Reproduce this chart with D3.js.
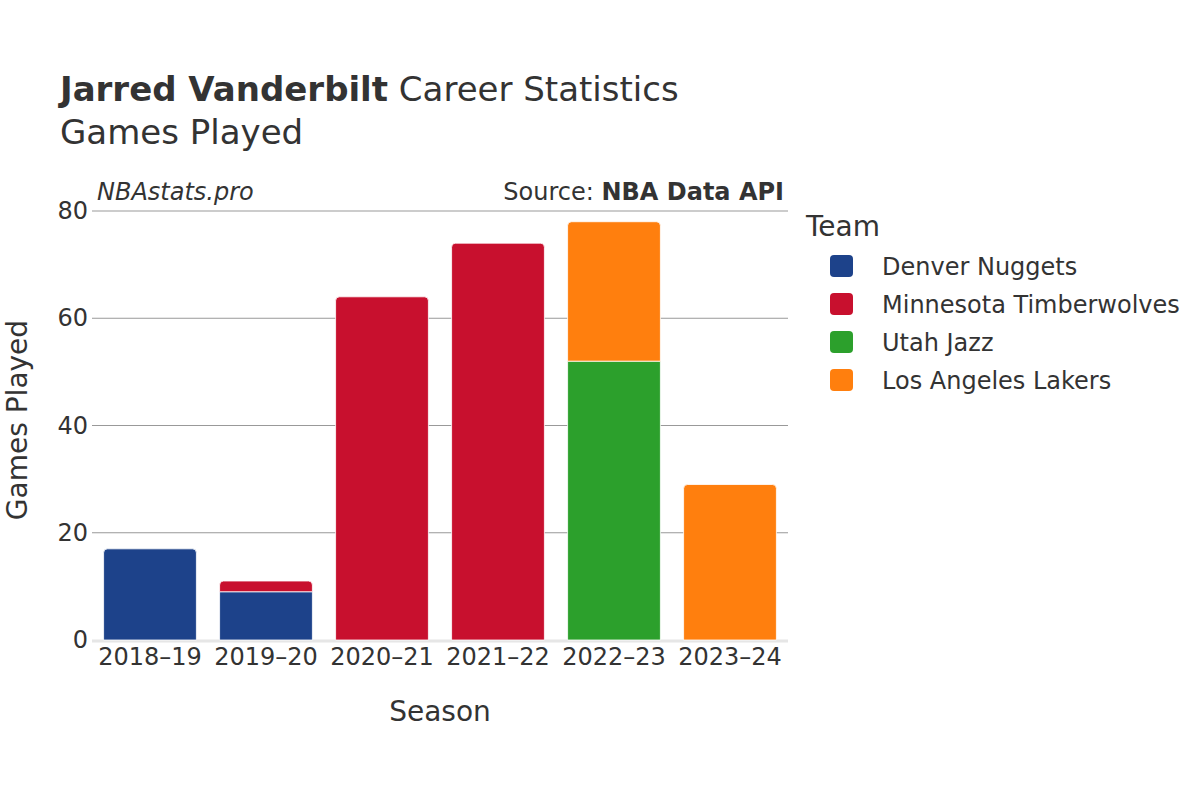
<!DOCTYPE html>
<html>
<head>
<meta charset="utf-8">
<script src="https://cdn.jsdelivr.net/npm/d3@7"></script>
<style>
  body { margin: 0; background: #fff; }
  text { font-family: "DejaVu Sans", sans-serif; fill: #333; }
</style>
</head>
<body>
<script>
// data
let seasons = ["2018–19", "2019–20", "2020–21", "2021–22", "2022–23", "2023–24"];
let teams = ["Denver Nuggets", "Minnesota Timberwolves", "Utah Jazz", "Los Angeles Lakers"];
let teamColors = ["#1d428a", "#c8102e", "#2ca02c", "#ff7f0e"];
let denver = [17, 9, 0, 0, 0, 0];
let minnesota = [0, 2, 64, 74, 0, 0];
let utah = [0, 0, 0, 0, 52, 0];
let lakers = [0, 0, 0, 0, 26, 29];
let yTicks = [0, 20, 40, 60, 80];

let width = 1200, height = 800;
let margin = { left: 92, right: 412, top: 211, bottom: 160 };
let plotW = width - margin.left - margin.right;
let plotH = height - margin.top - margin.bottom;

let rows = seasons.map(function (s, i) {
    return { season: s, "Denver Nuggets": denver[i], "Minnesota Timberwolves": minnesota[i],
             "Utah Jazz": utah[i], "Los Angeles Lakers": lakers[i] };
});

let svg = d3.select("body").append("svg")
    .attr("width", width)
    .attr("height", height);

let x = d3.scaleBand().domain(seasons).range([margin.left, margin.left + plotW])
    .paddingInner(0.2).paddingOuter(0.1);
let y = d3.scaleLinear().domain([0, 80]).range([margin.top + plotH, margin.top]);
let color = d3.scaleOrdinal().domain(teams).range(teamColors);

// gridlines
svg.append("g")
    .selectAll("line")
    .data(yTicks.filter(function (d) { return d > 0; }))
    .enter().append("line")
    .attr("x1", margin.left).attr("x2", margin.left + plotW)
    .attr("y1", function (d) { return y(d); }).attr("y2", function (d) { return y(d); })
    .attr("stroke", "#999").attr("stroke-width", 1);

// zero line
svg.append("line")
    .attr("x1", margin.left).attr("x2", margin.left + plotW)
    .attr("y1", y(0) + 1).attr("y2", y(0) + 1)
    .attr("stroke", "#e6e6e6").attr("stroke-width", 3);

let stack = d3.stack().keys(teams);
let series = stack(rows);

// top segment of each bar gets rounded top corners
let topKey = rows.map(function (r) {
    let k = null;
    teams.forEach(function (t) { if (r[t] > 0) k = t; });
    return k;
});

function barPath(x0, y0, w, h, r) {
    if (r <= 0) return "M" + x0 + "," + y0 + "h" + w + "v" + h + "h" + (-w) + "Z";
    r = Math.min(r, h, w / 2);
    return "M" + x0 + "," + (y0 + h) +
        "V" + (y0 + r) + "Q" + x0 + "," + y0 + " " + (x0 + r) + "," + y0 +
        "H" + (x0 + w - r) + "Q" + (x0 + w) + "," + y0 + " " + (x0 + w) + "," + (y0 + r) +
        "V" + (y0 + h) + "Z";
}

let groups = svg.selectAll(".team")
    .data(series)
    .enter().append("g")
    .attr("class", "team")
    .attr("fill", function (d) { return color(d.key); });

groups.selectAll("path")
    .data(function (d) { return d.map(function (p, i) { return { key: d.key, p: p, i: i }; }); })
    .enter().append("path")
    .filter(function (d) { return d.p[1] - d.p[0] > 0; })
    .attr("d", function (d) {
        let top = y(d.p[1]), bot = y(d.p[0]);
        let r = topKey[d.i] === d.key ? 4 : 0;
        return barPath(x(d.p.data.season), top, x.bandwidth(), bot - top, r);
    })
    .attr("stroke", "#fff").attr("stroke-width", 0.8);

// axes
let yAxis = svg.append("g")
    .attr("transform", "translate(" + margin.left + ",0)")
    .call(d3.axisLeft(y).tickValues(yTicks).tickSize(0).tickPadding(4));
yAxis.select(".domain").remove();
yAxis.selectAll("text").attr("font-size", 24).attr("fill", "#333")
    .attr("font-family", "DejaVu Sans, sans-serif");

let xAxis = svg.append("g")
    .attr("transform", "translate(0," + (margin.top + plotH) + ")")
    .call(d3.axisBottom(x).tickSize(0).tickPadding(8));
xAxis.select(".domain").remove();
xAxis.selectAll("text").attr("font-size", 24).attr("fill", "#333")
    .attr("font-family", "DejaVu Sans, sans-serif");

// titles
let title = svg.append("text").attr("x", 60).attr("y", 101).attr("font-size", 34);
title.append("tspan").attr("font-weight", "bold").text("Jarred Vanderbilt");
title.append("tspan").text(" Career Statistics");
svg.append("text").attr("x", 60).attr("y", 144).attr("font-size", 34).text("Games Played");

svg.append("text").attr("x", 97).attr("y", 200).attr("font-size", 24)
    .attr("font-style", "italic").text("NBAstats.pro");
let src = svg.append("text").attr("x", 784).attr("y", 200).attr("font-size", 24)
    .attr("text-anchor", "end");
src.append("tspan").text("Source: ");
src.append("tspan").attr("font-weight", "bold").text("NBA Data API");

svg.append("text").attr("x", margin.left + plotW / 2).attr("y", 721)
    .attr("text-anchor", "middle").attr("font-size", 28).text("Season");
svg.append("text")
    .attr("transform", "translate(27,420) rotate(-90)")
    .attr("text-anchor", "middle").attr("font-size", 28).text("Games Played");

// legend
svg.append("text").attr("x", 806).attr("y", 236).attr("font-size", 28).text("Team");
let legend = svg.selectAll(".legend")
    .data(teams)
    .enter().append("g")
    .attr("class", "legend")
    .attr("transform", function (d, i) { return "translate(830," + (266 + i * 38) + ")"; });
legend.append("rect")
    .attr("x", 0).attr("y", -11).attr("width", 23).attr("height", 22)
    .attr("rx", 4)
    .attr("fill", function (d) { return color(d); });
legend.append("text")
    .attr("x", 52).attr("y", 9).attr("font-size", 24)
    .text(function (d) { return d; });
</script>
</body>
</html>
